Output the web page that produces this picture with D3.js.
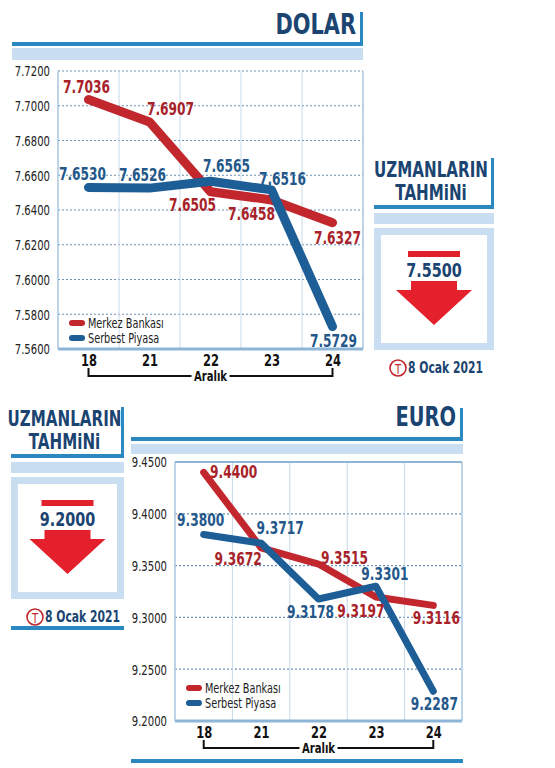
<!DOCTYPE html>
<html><head><meta charset="utf-8">
<script src="https://cdn.jsdelivr.net/npm/d3@7"></script>
<style>body{margin:0;background:#fff}svg{display:block}</style>
</head><body>
<script>
const days = ["18","21","22","23","24"];
const dolarMerkez = [7.7036, 7.6907, 7.6505, 7.6458, 7.6327];
const dolarSerbest = [7.6530, 7.6526, 7.6565, 7.6516, 7.5729];
const dolarTicks = [7.56,7.58,7.60,7.62,7.64,7.66,7.68,7.70,7.72];
const euroMerkez = [9.4400, 9.3672, 9.3515, 9.3197, 9.3116];
const euroSerbest = [9.3800, 9.3717, 9.3178, 9.3301, 9.2287];
const euroTicks = [9.20,9.25,9.30,9.35,9.40,9.45];
const dolarForecast = "7.5500";
const euroForecast = "9.2000";
const seriesNames = ["Merkez Bankası","Serbest Piyasa"];
const monthLabel = "Aralık";
const dateLabel = "8 Ocak 2021";

const offDM=[[-2,-12],[21,-13],[-18,13],[-20,14],[5,15]];
const offDS=[[-6,-13],[-7,-13],[16,-15],[11,-11],[1,14]];
const offEM=[[30,0],[-23,11],[26,-6],[-15,14],[3,13]];
const offES=[[-3,-14],[19,-15],[-8,13],[9,-12],[1,13]];

const RED="#c1272d", BLUE="#1d5e96", DARK="#1b4471", LB="#c9def0", MB="#2c88c0";
const FONT="'DejaVu Sans',sans-serif";
const SX=0.72;
const svg=d3.select("body").append("svg").attr("width",555).attr("height",768).style("font-family",FONT);

function header(g,text,x1,x2,yText,yLine,yBarTop,size){
  g.append("text").attr("x",x2-7).attr("y",yText).attr("text-anchor","end").attr("font-size",size).attr("font-weight","bold").attr("fill",DARK).text(text);
  g.append("rect").attr("x",x2-3).attr("y",yBarTop).attr("width",3).attr("height",yLine-yBarTop+2).attr("fill",MB);
  g.append("rect").attr("x",x1).attr("y",yLine-1).attr("width",x2-x1).attr("height",4).attr("fill",MB);
}

function chart(opt){
  const x=d3.scalePoint().domain(days).range([opt.x0,opt.x1]).padding(0.5);
  const y=d3.scaleLinear().domain(opt.dom).range([opt.y1,opt.y0]);
  const g=svg.append("g");
  const bw=(opt.x1-opt.x0)/days.length;
  g.selectAll(".h").data(opt.ticks.slice(1)).join("line").attr("x1",opt.x0).attr("x2",opt.x1)
   .attr("y1",d=>y(d)).attr("y2",d=>y(d)).attr("stroke","#6d90b3").attr("stroke-dasharray","2,2").attr("stroke-width",1.2);
  g.selectAll(".v").data(d3.range(1,days.length)).join("line").attr("x1",i=>opt.x0+i*bw).attr("x2",i=>opt.x0+i*bw)
   .attr("y1",opt.y0).attr("y2",opt.y1).attr("stroke","#c8d8e8").attr("stroke-width",1);
  g.append("line").attr("x1",opt.x0).attr("x2",opt.x0).attr("y1",opt.y0).attr("y2",opt.y1).attr("stroke","#a9c6e0").attr("stroke-width",1.5);
  g.append("line").attr("x1",opt.x1).attr("x2",opt.x1).attr("y1",opt.y0).attr("y2",opt.y1).attr("stroke","#a9c6e0").attr("stroke-width",1.5);
  g.append("line").attr("x1",opt.x0).attr("x2",opt.x1).attr("y1",opt.y1).attr("y2",opt.y1).attr("stroke","#8db5d8").attr("stroke-width",3);
  if(opt.topSolid) g.append("line").attr("x1",opt.x0).attr("x2",opt.x1).attr("y1",opt.y0).attr("y2",opt.y0).attr("stroke","#8db5d8").attr("stroke-width",2);
  const ya=g.append("g").attr("transform",`translate(${opt.x0-5},0)`).call(d3.axisLeft(y).tickValues(opt.ticks).tickFormat(d3.format(".4f")).tickSize(0));
  ya.select(".domain").remove();
  ya.selectAll("text").attr("font-size",14).attr("fill","#222").style("font-family",FONT).attr("dy","0.35em");
  const xa=g.append("g").attr("transform",`translate(0,${opt.y1+3})`).call(d3.axisBottom(x).tickSize(0));
  xa.select(".domain").remove();
  xa.selectAll("text").attr("font-size",16).attr("font-weight","bold").attr("fill","#111").style("font-family",FONT);
  const by=opt.y1+27;
  g.append("path").attr("d",`M${x(days[0])},${by-8}V${by}H${x(days[4])}V${by-8}`).attr("fill","none").attr("stroke","#111").attr("stroke-width",2);
  g.append("rect").attr("x",x("22")-19).attr("y",by-8).attr("width",38).attr("height",16).attr("fill","#fff");
  g.append("text").attr("x",x("22")).attr("y",by+5).attr("text-anchor","middle").attr("font-size",14).attr("font-weight","bold").attr("fill","#111").text(monthLabel);
  const line=d3.line().x((d,i)=>x(days[i])).y(d=>y(d));
  [[opt.m,RED],[opt.s,BLUE]].forEach(([d,c])=>{
    g.append("path").datum(d).attr("d",line).attr("fill","none").attr("stroke",c).attr("stroke-width",opt.lw).attr("stroke-linecap","round").attr("stroke-linejoin","round");
  });
  [[opt.m,opt.om,"#a8222a"],[opt.s,opt.os,"#24588a"]].forEach(([d,o,c])=>{
    g.selectAll(null).data(d).join("text").attr("x",(v,i)=>x(days[i])+o[i][0]).attr("y",(v,i)=>y(v)+o[i][1])
     .attr("dy","0.35em").attr("text-anchor","middle").attr("font-size",17).attr("font-weight","bold").attr("fill",c).text(v=>v.toFixed(4));
  });
  seriesNames.forEach((n,i)=>{
    const ly=opt.leg[1]+i*15;
    g.append("line").attr("x1",opt.leg[0]).attr("x2",opt.leg[0]+10).attr("y1",ly).attr("y2",ly).attr("stroke",i?BLUE:RED).attr("stroke-width",6).attr("stroke-linecap","round");
    g.append("text").attr("x",opt.leg[0]+16).attr("y",ly).attr("dy","0.35em").attr("font-size",13.5).attr("fill","#222").text(n);
  });
}

function panel(x1,x2,yTop,val){
  const g=svg.append("g"), cx=(x1+x2)/2;
  g.append("text").attr("x",cx-3).attr("y",yTop+19).attr("text-anchor","middle").attr("font-size",21).attr("font-weight","bold").attr("fill",DARK).text("UZMANLARIN");
  g.append("text").attr("x",cx-3).attr("y",yTop+42).attr("text-anchor","middle").attr("font-size",21).attr("font-weight","bold").attr("fill",DARK).text("TAHMiNi");
  g.append("rect").attr("x",x2-3).attr("y",yTop).attr("width",3).attr("height",50).attr("fill",MB);
  g.append("rect").attr("x",x1).attr("y",yTop+47).attr("width",x2-x1).attr("height",4).attr("fill",MB);
  g.append("rect").attr("x",x1).attr("y",yTop+55).attr("width",x2-x1).attr("height",11).attr("fill",LB);
  g.append("rect").attr("x",x1).attr("y",yTop+70).attr("width",x2-x1).attr("height",122).attr("fill",LB);
  g.append("rect").attr("x",x1+7).attr("y",yTop+77).attr("width",x2-x1-14).attr("height",108).attr("fill","#fff");
  g.append("rect").attr("x",cx-26).attr("y",yTop+93).attr("width",52).attr("height",6).attr("fill","#e0202a");
  g.append("text").attr("x",cx).attr("y",yTop+119).attr("text-anchor","middle").attr("font-size",20).attr("font-weight","bold").attr("fill",DARK).text(val);
  g.append("path").attr("d",`M${cx-23},${yTop+123}h46v9h15l-38,35l-38,-35h15z`).attr("fill","#e3202b");
  g.append("circle").attr("cx",x1+24).attr("cy",yTop+210).attr("r",8).attr("fill","none").attr("stroke","#c1272d").attr("stroke-width",1.6);
  g.append("text").attr("x",x1+24).attr("y",yTop+211).attr("dy","0.35em").attr("text-anchor","middle").attr("font-size",14).attr("fill","#c1272d").text("T");
  g.append("text").attr("x",x1+34).attr("y",yTop+215).attr("font-size",15).attr("font-weight","bold").attr("fill",DARK).text(dateLabel);
}

header(svg,"DOLAR",12,363,34,43,12,29);
svg.append("rect").attr("x",12).attr("y",48).attr("width",351).attr("height",12).attr("fill",LB);
chart({x0:58,x1:363,y0:71,y1:349,dom:[7.56,7.72],ticks:dolarTicks,m:dolarMerkez,s:dolarSerbest,om:offDM,os:offDS,lw:9,leg:[72,323],topSolid:false});
panel(374,494,158,dolarForecast);

header(svg,"EURO",131,463,426,438,408,27);
svg.append("rect").attr("x",131).attr("y",444).attr("width",332).attr("height",10).attr("fill",LB);
chart({x0:175,x1:462,y0:462,y1:721,dom:[9.20,9.45],ticks:euroTicks,m:euroMerkez,s:euroSerbest,om:offEM,os:offES,lw:7,leg:[189,688],topSolid:true});
panel(11,124,407,euroForecast);
svg.append("rect").attr("x",11).attr("y",626).attr("width",113).attr("height",4).attr("fill",MB);
svg.append("rect").attr("x",131).attr("y",759).attr("width",332).attr("height",4).attr("fill",MB);

svg.selectAll("text").each(function(){
  const t=d3.select(this); const x=+(t.attr("x")||0);
  t.attr("x",x/SX).attr("transform",`scale(${SX},1)`);
});
</script>
</body></html>
